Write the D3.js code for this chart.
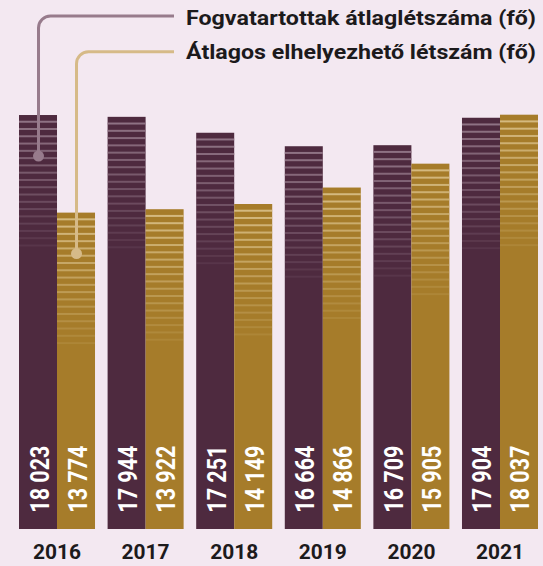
<!DOCTYPE html>
<html>
<head>
<meta charset="utf-8">
<script src="https://cdn.jsdelivr.net/npm/d3@7"></script>
<style>
  html, body { margin: 0; padding: 0; background: #f3e8f1; }
  svg { display: block; }
</style>
</head>
<body>
<script>
const years = ["2016", "2017", "2018", "2019", "2020", "2021"];
const seriesNames = ["Fogvatartottak átlaglétszáma (fő)", "Átlagos elhelyezhető létszám (fő)"];
const inmates = [18023, 17944, 17251, 16664, 16709, 17904];
const capacity = [13774, 13922, 14149, 14866, 15905, 18037];
const valueLabels = [
  ["18 023", "17 944", "17 251", "16 664", "16 709", "17 904"],
  ["13 774", "13 922", "14 149", "14 866", "15 905", "18 037"]
];

const W = 543, H = 566;
const barColors = ["#4e2a3f", "#a67c2a"];
const stripeColors = ["#9a7f90", "#dcc48e"];
const legendColors = ["#977b8c", "#d6ba88"];
const FONT = "Roboto, 'DejaVu Sans', sans-serif";

const svg = d3.select("body").append("svg").attr("width", W).attr("height", H);
svg.append("rect").attr("width", W).attr("height", H).attr("fill", "#f3e8f1");

const x0 = d3.scaleBand().domain(years).range([19, 538]).paddingInner(0.142).paddingOuter(0);
const x1 = d3.scaleBand().domain([0, 1]).range([0, x0.bandwidth()]).padding(0);
const y = d3.scaleLinear().domain([0, 18037]).range([529, 114.7]);

const data = years.map((yr, i) => ({ year: yr, vals: [inmates[i], capacity[i]] }));

const groups = svg.append("g").selectAll("g").data(data).join("g")
  .attr("transform", d => `translate(${x0(d.year)},0)`);

const nStripes = 18, stripeGap = 7.28, stripeH = 2;
groups.each(function(d, gi) {
  const g = d3.select(this);
  d.vals.forEach((v, s) => {
    const bx = x1(s), bw = x1.bandwidth();
    g.append("rect")
      .attr("x", bx).attr("y", y(v))
      .attr("width", bw).attr("height", y(0) - y(v))
      .attr("fill", barColors[s]);
    const stripes = d3.range(nStripes);
    g.append("g").selectAll("rect").data(stripes).join("rect")
      .attr("x", bx).attr("width", bw)
      .attr("y", k => y(v) + 5.7 + k * stripeGap)
      .attr("height", stripeH)
      .attr("fill", stripeColors[s])
      .attr("opacity", k => 0.85 - k * 0.042);
    g.append("text")
      .attr("transform", `translate(${bx + 29.5},512.7) rotate(-90)`)
      .attr("text-anchor", "start")
      .attr("font-family", FONT)
      .attr("font-weight", "bold")
      .attr("font-size", 25)
      .attr("textLength", 67)
      .attr("lengthAdjust", "spacingAndGlyphs")
      .attr("fill", "#ffffff")
      .text(valueLabels[s][gi]);
  });
});

// year axis labels
svg.append("g").selectAll("text").data(years).join("text")
  .attr("x", d => x0(d) + x0.bandwidth() / 2)
  .attr("y", 558.5)
  .attr("text-anchor", "middle")
  .attr("font-family", FONT)
  .attr("font-weight", "bold")
  .attr("font-size", 20)
  .attr("textLength", 48)
  .attr("lengthAdjust", "spacingAndGlyphs")
  .attr("fill", "#1c1a1c")
  .text(d => d);

// legend leader lines
const first = years[0];
const legendY = [16, 51.7];
const legendText = [25.3, 58.8];
const ends = [
  { x: x0(first) + x1(0) + x1.bandwidth() / 2 + 0.5, y: y(inmates[0]) + 41 },
  { x: x0(first) + x1(1) + x1.bandwidth() / 2 + 0.5, y: y(capacity[0]) + 41 }
];
const r = 12;
seriesNames.forEach((name, s) => {
  const e = ends[s];
  const ly = legendY[s];
  const path = d3.path();
  path.moveTo(174, ly);
  path.lineTo(e.x + r, ly);
  path.arcTo(e.x, ly, e.x, ly + r, r);
  path.lineTo(e.x, e.y);
  svg.append("path").attr("d", path.toString())
    .attr("fill", "none").attr("stroke", legendColors[s]).attr("stroke-width", 3);
  svg.append("circle").attr("cx", e.x).attr("cy", e.y).attr("r", 5.5).attr("fill", legendColors[s]);
  svg.append("text")
    .attr("x", 536).attr("y", legendText[s])
    .attr("text-anchor", "end")
    .attr("font-family", FONT)
    .attr("font-weight", "bold")
    .attr("font-size", 19.5)
    .attr("textLength", 350)
    .attr("lengthAdjust", "spacingAndGlyphs")
    .attr("fill", "#1c1a1c")
    .text(name);
});
</script>
</body>
</html>
